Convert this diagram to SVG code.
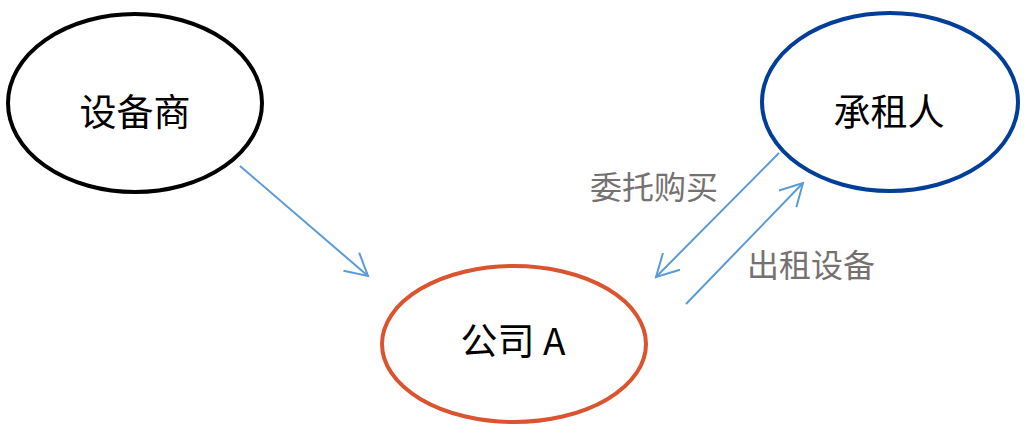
<svg xmlns="http://www.w3.org/2000/svg" width="1029" height="438" viewBox="0 0 1029 438">
<style>
.node{fill:#fff;stroke-width:4}
.nt{font-family:"Noto Sans CJK SC","Microsoft YaHei",sans-serif;font-size:37px;fill:#000;text-anchor:middle}
.lbl{font-family:"Noto Sans CJK SC","Microsoft YaHei",sans-serif;font-size:32px;fill:#767171;text-anchor:start}
.conn{stroke:#5B9BD5;stroke-width:2;fill:none;marker-end:url(#arr)}
</style>
<defs>
<marker id="arr" markerUnits="userSpaceOnUse" markerWidth="30" markerHeight="30" viewBox="-25 -15 30 30" refX="0" refY="0" orient="auto">
<path d="M-22,-12 L0,0 L-22,12" fill="none" stroke="#5B9BD5" stroke-width="2"/>
</marker>
</defs>
<rect width="1029" height="438" fill="#fff"/>
<g id="node-supplier">
<ellipse class="node" cx="135" cy="103" rx="127" ry="89" stroke="#000"/>
<text class="nt" x="135" y="126">设备商</text>
</g>
<g id="node-lessee">
<ellipse class="node" cx="890" cy="102" rx="128" ry="89" stroke="#003F99"/>
<text class="nt" x="889" y="126">承租人</text>
</g>
<g id="node-companyA">
<ellipse class="node" cx="514" cy="344" rx="132" ry="78" stroke="#DA5430"/>
<text class="nt" x="513" y="355">公司 A</text>
</g>
<g id="connectors">
<line class="conn" x1="240" y1="166" x2="368" y2="276"/>
<line class="conn" x1="779" y1="153" x2="656" y2="277"/>
<line class="conn" x1="686" y1="304" x2="803" y2="183"/>
</g>
<g id="labels">
<text class="lbl" x="590" y="199">委托购买</text>
<text class="lbl" x="747" y="277">出租设备</text>
</g>
</svg>
